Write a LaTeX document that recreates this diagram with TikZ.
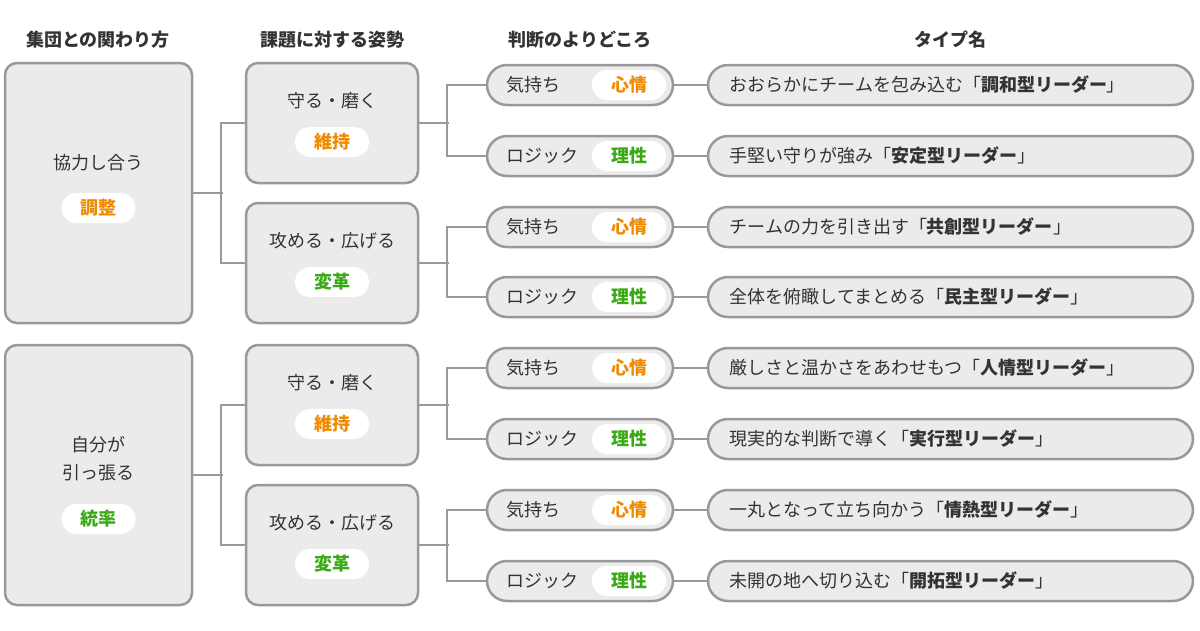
\documentclass[tikz,border=0pt]{standalone}
\usepackage{fontspec}
\setmainfont{Noto Sans CJK JP}
\usetikzlibrary{positioning}
\definecolor{boxgray}{HTML}{EBEBEB}
\definecolor{linegray}{HTML}{999999}
\definecolor{warm}{HTML}{F08A00}
\definecolor{cool}{HTML}{3AAA14}
\definecolor{ink}{HTML}{333333}
\tikzset{
  bigbox/.style={draw=linegray,line width=2.5pt,fill=boxgray,rounded corners=12pt,inner sep=0pt},
  pill/.style={draw=linegray,line width=2.5pt,fill=boxgray,rounded corners=20pt,minimum height=40pt,inner sep=0pt},
  badge/.style={fill=white,rounded corners=15pt,minimum height=30pt,minimum width=74pt,inner sep=0pt,font=\bfseries\fontsize{18}{20}\selectfont},
  txt/.style={text=ink,font=\fontsize{18}{24}\selectfont,align=center},
  head/.style={text=ink,font=\bfseries\fontsize{18}{20}\selectfont},
  conn/.style={draw=linegray,line width=2pt}
}
\begin{document}
\begin{tikzpicture}[x=1pt,y=-1pt]
  \useasboundingbox (0,0) rectangle (1200,630);
  % headers
  \node[head] (h1) at (98,40) {集団との関わり方};
  \node[head] (h2) at (332,40) {課題に対する姿勢};
  \node[head] (h3) at (580,40) {判断のよりどころ};
  \node[head] (h4) at (950,40) {タイプ名};

  % first column
  \node[bigbox,minimum width=187pt,minimum height=260pt] (c1a) at (98.5,193) {};
  \node[txt] at (98.5,163) {協力し合う};
  \node[badge,text=warm] at (98.5,208) {調整};
  \node[bigbox,minimum width=187pt,minimum height=260pt] (c1b) at (98.5,475) {};
  \node[txt] at (98.5,459) {自分が\\[4pt]引っ張る};
  \node[badge,text=cool] at (98.5,519) {統率};

  % second column
  \foreach \y/\t/\b/\c [count=\i] in {123/守る・磨く/維持/warm,263/攻める・広げる/変革/cool,405/守る・磨く/維持/warm,545/攻める・広げる/変革/cool}{
    \node[bigbox,minimum width=172pt,minimum height=120pt] (c2\i) at (332,\y) {};
    \node[txt] at (332,\y-22) {\t};
    \node[badge,text=\c] at (332,\y+19) {\b};
  }

  % third and fourth columns
  \foreach \y/\a/\b/\c/\n/\m [count=\i] in {
    85/気持ち/心情/warm/おおらかにチームを包み込む/調和,
    156/ロジック/理性/cool/手堅い守りが強み/安定,
    227/気持ち/心情/warm/チームの力を引き出す/共創,
    297/ロジック/理性/cool/全体を俯瞰してまとめる/民主,
    368/気持ち/心情/warm/厳しさと温かさをあわせもつ/人情,
    439/ロジック/理性/cool/現実的な判断で導く/実行,
    510/気持ち/心情/warm/一丸となって立ち向かう/情熱,
    581/ロジック/理性/cool/未開の地へ切り込む/開拓}{
    \node[pill,minimum width=186pt] (c3\i) at (580,\y) {};
    \node[txt,anchor=west] at (503,\y) {\a};
    \node[badge,text=\c] at (629,\y) {\b};
    \node[pill,minimum width=485pt] (c4\i) at (950.5,\y) {};
    \node[txt,anchor=west] at (726,\y) {\n「\textbf{\m 型リーダー}」};
    \draw[conn] (c3\i.east) -- (c4\i.west);
  }

  % connectors
  \foreach \p/\u/\l in {c1a/c21/c22,c1b/c23/c24}{
    \draw[conn] (\p.east) -- ++(30,0);
    \draw[conn] (\u.west) -- ++(-24,0) |- (\l.west);
  }
  \foreach \p/\u/\l in {c21/c31/c32,c22/c33/c34,c23/c35/c36,c24/c37/c38}{
    \draw[conn] (\p.east) -- ++(30,0);
    \draw[conn] (\u.west) -- ++(-39,0) |- (\l.west);
  }
\end{tikzpicture}
\end{document}
